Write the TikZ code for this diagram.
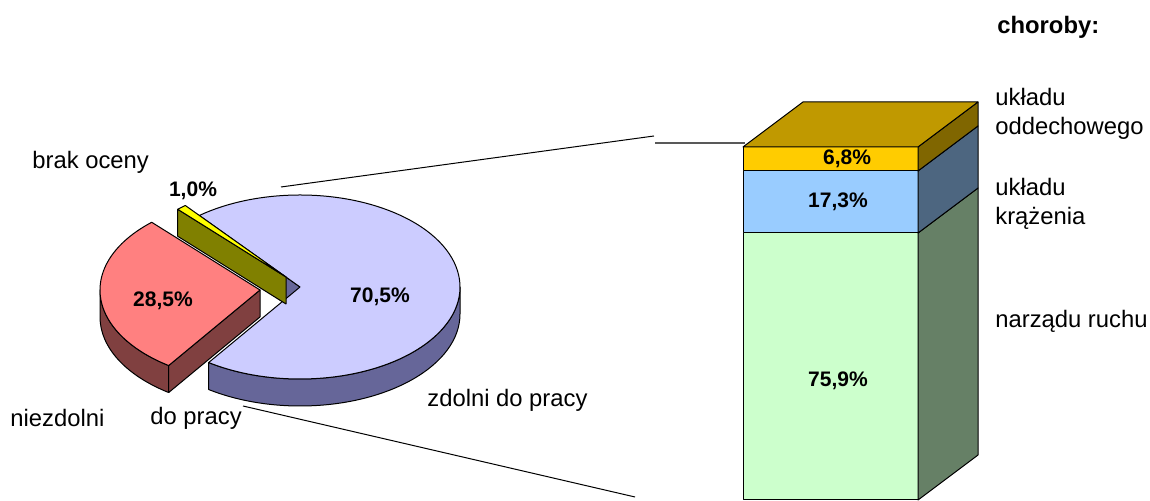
\documentclass[tikz,border=0pt]{standalone}
\usepackage{fontspec}
\setmainfont{Liberation Sans}
\definecolor{zdolniTop}{HTML}{CCCCFF}
\definecolor{zdolniSide}{HTML}{666699}
\definecolor{niezdolniTop}{HTML}{FF8080}
\definecolor{niezdolniSide}{HTML}{804040}
\definecolor{brakTop}{HTML}{FFFF00}
\definecolor{brakSide}{HTML}{808000}
\definecolor{oddechFront}{HTML}{FFCC00}
\definecolor{oddechSide}{HTML}{806600}
\definecolor{oddechTop}{HTML}{C09900}
\definecolor{krazFront}{HTML}{99CCFF}
\definecolor{krazSide}{HTML}{4D6680}
\definecolor{ruchFront}{HTML}{CCFFCC}
\definecolor{ruchSide}{HTML}{668066}
\definecolor{linkGray}{HTML}{595959}
\tikzset{
  face/.style={draw=black,line width=0.5pt,line join=round},
  txt/.style={inner sep=0pt,anchor=west,align=left,font=\fontsize{11.9}{14.5}\selectfont},
  pct/.style={inner sep=0pt,font=\fontsize{10.5}{12}\selectfont\bfseries}
}
\begin{document}
\begin{tikzpicture}[x=0.5pt,y=0.5pt]
\useasboundingbox (0,0) rectangle (1150,501);

% zdolni do pracy
\begin{scope}[shift={(300,214)}]
\filldraw[face,fill=zdolniSide] (0,0) -- (129:160 and 92) -- ++(0,-27) -- (0,-27) -- cycle;
\filldraw[face,fill=zdolniSide] (-124.8:160 and 92) arc[start angle=-124.8,end angle=0,x radius=160,y radius=92]
  -- ++(0,-27) arc[start angle=0,end angle=-124.8,x radius=160,y radius=92] -- cycle;
\filldraw[face,fill=zdolniTop] (0,0) -- (-124.8:160 and 92) arc[start angle=-124.8,end angle=129,x radius=160,y radius=92] -- cycle;
\coordinate (zdolniUp) at (-19,100);
\coordinate (zdolniDown) at (-57,-119);
\end{scope}

% brak oceny
\begin{scope}[shift={(286,224)}]
\filldraw[face,fill=brakSide] (0,0) -- (132.6:160 and 92) -- ++(0,-27) -- (0,-27) -- cycle;
\filldraw[face,fill=brakTop] (0,0) -- (129:160 and 92) arc[start angle=129,end angle=132.6,x radius=160,y radius=92] -- cycle;
\end{scope}

% niezdolni do pracy
\begin{scope}[shift={(260,211)}]
\filldraw[face,fill=niezdolniSide] (180:160 and 92) arc[start angle=180,end angle=235.2,x radius=160,y radius=92]
  -- ++(0,-27) arc[start angle=235.2,end angle=180,x radius=160,y radius=92] -- cycle;
\filldraw[face,fill=niezdolniSide] (0,0) -- (235.2:160 and 92) -- ++(0,-27) -- (0,-27) -- cycle;
\filldraw[face,fill=niezdolniTop] (0,0) -- (132.6:160 and 92) arc[start angle=132.6,end angle=235.2,x radius=160,y radius=92] -- cycle;
\end{scope}

% slupek chorob
\foreach \lo/\hi/\seg in {1/268/ruch, 268/330/kraz, 330/354/oddech}{
  \filldraw[face,fill=\seg Front] (743,\lo) rectangle (918,\hi);
  \filldraw[face,fill=\seg Side] (918,\lo) -- (978,{\lo+45}) -- (978,{\hi+45}) -- (918,\hi) -- cycle;
}
\filldraw[face,fill=oddechTop] (743,354) -- (803,399) -- (978,399) -- (918,354) -- cycle;

% linie laczace
\coordinate (barUp) at (654,365);
\coordinate (grayStart) at (655,358);
\coordinate (barEdge) at (745,358);
\coordinate (barDown) at (635,4);
\draw[line width=0.5pt] (zdolniUp) -- (barUp);
\draw[linkGray,line width=0.9pt] (grayStart) -- (barEdge);
\draw[line width=0.5pt] (zdolniDown) -- (barDown);

% etykiety
\node[pct] (pZdolni) at (380,204) {70,5\%};
\node[pct] (pNiezdolni) at (163,200) {28,5\%};
\node[pct] (pBrak) at (193,310) {1,0\%};
\node[pct] (pOddech) at (847,342) {6,8\%};
\node[pct] (pKraz) at (838,299) {17,3\%};
\node[pct] (pRuch) at (838,120) {75,9\%};

\node[txt] (brak) at (32,339) {brak oceny};
\node[txt] (zdolni) at (427,101) {zdolni do pracy};
\node[txt] (niezdolni) at (10,83) {niezdolni};
\node[txt] (doPracy) at (150,83) {do pracy};
\node[txt,font=\fontsize{11.9}{14.5}\selectfont\bfseries] (choroby) at (997,474) {choroby:};
\node[txt] (oddech) at (995,387) {układu\\oddechowego};
\node[txt] (kraz) at (995,297) {układu\\krążenia};
\node[txt] (ruch) at (995,180) {narządu ruchu};
\end{tikzpicture}
\end{document}
